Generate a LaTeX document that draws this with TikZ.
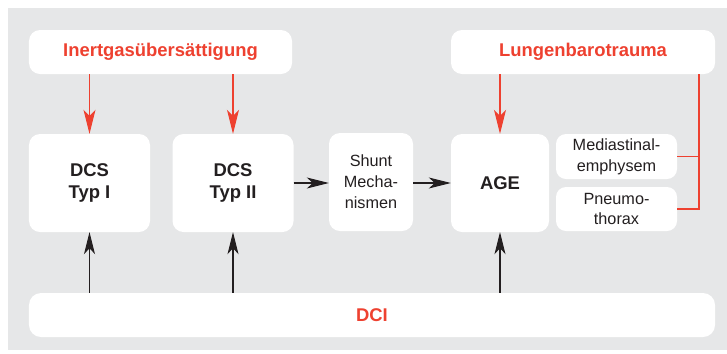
\documentclass[tikz,border=0pt]{standalone}
\usepackage{fontspec}
\setmainfont{Liberation Sans}
\usetikzlibrary{arrows.meta}
\definecolor{bgray}{RGB}{230,231,232}
\definecolor{dred}{RGB}{238,65,48}
\definecolor{dtext}{RGB}{35,31,32}
\tikzset{
  box/.style={fill=white, rounded corners=11bp, inner sep=0pt, align=center, text=dtext},
  bigtxt/.style={font=\fontsize{18.5}{21.5}\selectfont\bfseries},
  smalltxt/.style={font=\fontsize{16.3}{21}\selectfont},
  redtxt/.style={font=\fontsize{18.5}{21.5}\selectfont\bfseries, text=dred},
  redarrow/.style={draw=dred, line width=1.1bp, -{Stealth[length=24bp, width=12bp, inset=6bp]}},
  blackarrow/.style={draw=dtext, line width=1.1bp, -{Stealth[length=22bp, width=11bp, inset=6bp]}},
  redline/.style={draw=dred, line width=1.1bp}
}
\begin{document}
\begin{tikzpicture}[x=1bp, y=-1bp]
\useasboundingbox (0,0) rectangle (727,353);
\fill[bgray] (8,8) rectangle (727,350);
% boxes
\node[box, redtxt, minimum width=263bp, minimum height=44bp] (inert) at (160.5,52) {Inertgasübersättigung};
\node[box, redtxt, minimum width=264bp, minimum height=44bp] (lunge) at (583,52) {Lungenbarotrauma};
\node[box, bigtxt, minimum width=121bp, minimum height=98bp] (dcs1) at (89.5,183) {DCS\\Typ I};
\node[box, bigtxt, minimum width=121bp, minimum height=98bp] (dcs2) at (233,183) {DCS\\Typ II};
\node[box, smalltxt, minimum width=84bp, minimum height=98bp] (shunt) at (371,182) {Shunt\\Mecha-\\nismen};
\node[box, bigtxt, minimum width=98bp, minimum height=98bp] (age) at (500,183) {AGE};
\node[box, smalltxt, minimum width=121bp, minimum height=45bp, rounded corners=10bp] (medi) at (616.5,156.5) {Mediastinal-\\emphysem};
\node[box, smalltxt, minimum width=121bp, minimum height=44bp, rounded corners=10bp] (pneu) at (616.5,209) {Pneumo-\\thorax};
\node[box, redtxt, minimum width=686bp, minimum height=44bp, rounded corners=12bp] (dci) at (372,315) {DCI};
% red arrows
\draw[redarrow] (inert.south -| dcs1.north) -- (dcs1.north);
\draw[redarrow] (inert.south -| dcs2.north) -- (dcs2.north);
\draw[redarrow] (lunge.south -| age.north) -- (age.north);
% lung connector
\coordinate (rc) at (699,74);
\draw[redline] (rc) -- (rc |- pneu.east) -- (pneu.east);
\draw[redline] (rc |- medi.east) -- (medi.east);
% black arrows
\draw[blackarrow] (dcs2.east) -- (shunt.west |- dcs2.east);
\draw[blackarrow] (shunt.east |- dcs2.east) -- (age.west);
\draw[blackarrow] (dci.north -| dcs1.south) -- (dcs1.south);
\draw[blackarrow] (dci.north -| dcs2.south) -- (dcs2.south);
\draw[blackarrow] (dci.north -| age.south) -- (age.south);
\end{tikzpicture}
\end{document}
